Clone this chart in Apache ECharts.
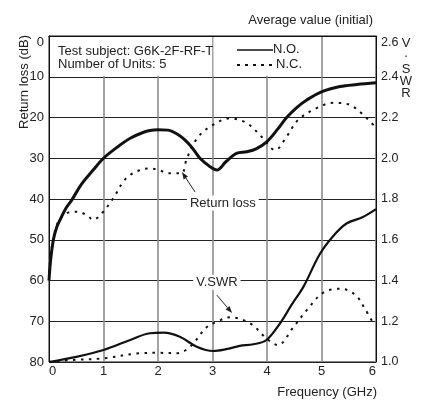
<!DOCTYPE html>
<html><head><meta charset="utf-8">
<script src="https://cdn.jsdelivr.net/npm/echarts@6/dist/echarts.min.js"></script>
<style>html,body{margin:0;padding:0;background:#fff}#c{width:427px;height:401px}</style>
</head><body><div id="c"></div>
<script>
// ---- data ----
var freqTicks = [0, 1, 2, 3, 4, 5, 6];
var rlTicks = [0, 10, 20, 30, 40, 50, 60, 70, 80];
var vswrTicks = [1.0, 1.2, 1.4, 1.6, 1.8, 2.0, 2.2, 2.4, 2.6];

var noRLFreq = [0, 0.03, 0.08, 0.14, 0.2, 0.3, 0.42, 0.6, 0.81, 1.0, 1.25, 1.49, 1.7, 1.85, 2.0, 2.18, 2.4, 2.6, 2.77, 2.95, 3.08, 3.25, 3.44, 3.63, 3.8, 4.0, 4.2, 4.36, 4.55, 4.73, 5.0, 5.34, 5.65, 6.0];
var noRL     = [60, 55, 50, 47, 45.2, 42.5, 40.2, 36.3, 32.9, 30, 27.3, 25.1, 23.8, 23.2, 23.0, 23.1, 24.5, 27, 30, 32, 32.9, 30.8, 28.8, 28.4, 27.7, 25.9, 22.8, 20.0, 17.5, 15.7, 13.7, 12.4, 11.9, 11.5];

var ncRLFreq = [0, 0.05, 0.1, 0.17, 0.32, 0.51, 0.7, 0.81, 0.97, 1.18, 1.36, 1.49, 1.65, 1.82, 2.0, 2.19, 2.43, 2.53, 2.74, 3.01, 3.32, 3.63, 3.9, 4.15, 4.36, 4.57, 4.91, 5.22, 5.52, 5.77, 6.0];
var ncRL     = [58, 52, 48.5, 45.6, 43.5, 43.1, 44, 45.1, 43.5, 39.8, 35.8, 34.1, 33, 32.5, 32.8, 33.7, 33.7, 30, 24.7, 21.8, 20.2, 21.4, 24.7, 28, 24.7, 20.6, 17.7, 16.4, 16.9, 19.4, 22.5];

var noVswrFreq = [0, 0.5, 1.0, 1.49, 1.85, 2.1, 2.4, 2.71, 3.01, 3.25, 3.5, 3.75, 3.99, 4.24, 4.45, 4.67, 4.97, 5.22, 5.46, 5.75, 6.0];
var noVswr     = [1.0, 1.025, 1.059, 1.108, 1.141, 1.144, 1.124, 1.075, 1.054, 1.063, 1.079, 1.087, 1.108, 1.19, 1.28, 1.37, 1.53, 1.62, 1.68, 1.71, 1.75];

var ncVswrFreq = [0, 0.44, 1.0, 1.67, 2.0, 2.34, 2.59, 2.89, 3.1, 3.32, 3.69, 3.99, 4.2, 4.48, 4.73, 5.03, 5.34, 5.62, 5.8, 5.95];
var ncVswr     = [1.0, 1.01, 1.018, 1.043, 1.045, 1.043, 1.075, 1.17, 1.2, 1.22, 1.19, 1.116, 1.083, 1.17, 1.255, 1.34, 1.36, 1.33, 1.26, 1.19];

// annotation anchors (data coordinates: [GHz, dB])
var rlLabelAt = [3.19, 41.0];
var rlArrow = [[2.68, 38.3], [2.44, 33.4]];
var vsLabelAt = [3.08, 60.4];
var vsArrow = [[3.08, 63.6], [3.36, 68.0]];

function pairs(xs, ys) { return xs.map(function (x, i) { return [x, ys[i]]; }); }

var FONT = 'Liberation Sans, Arial, Helvetica, sans-serif';
var TXT = '#222';
var FS = 13;

var chart = echarts.init(document.getElementById('c'), null, { renderer: 'canvas' });

var option = {
  animation: false,
  backgroundColor: '#fff',
  textStyle: { fontFamily: FONT, color: TXT },
  grid: { left: 49, right: 51, top: 36, bottom: 39, containLabel: false, show: true, borderColor: '#111', borderWidth: 1, backgroundColor: 'transparent' },
  xAxis: {
    type: 'value', min: freqTicks[0], max: freqTicks[freqTicks.length - 1], interval: 1,
    axisLine: { show: true, lineStyle: { color: '#111', width: 1 } },
    axisTick: { show: false },
    axisLabel: { fontFamily: FONT, fontSize: FS, color: TXT, margin: 3, alignMinLabel: 'left', alignMaxLabel: 'right' },
    splitLine: { show: true, lineStyle: { color: '#8c8c8c', width: 1.6 } }
  },
  yAxis: [{
    type: 'value', min: rlTicks[0], max: rlTicks[rlTicks.length - 1], interval: 10, inverse: true,
    position: 'left',
    axisLine: { show: true, lineStyle: { color: '#111', width: 1 } },
    axisTick: { show: false },
    axisLabel: { fontFamily: FONT, fontSize: FS, color: TXT, margin: 5, verticalAlignMinLabel: 'top' },
    splitLine: { show: true, lineStyle: { color: '#222', width: 1 } }
  }, {
    type: 'value', min: vswrTicks[0], max: vswrTicks[vswrTicks.length - 1], interval: 0.2,
    position: 'right',
    axisLine: { show: true, onZero: false, lineStyle: { color: '#111', width: 1 } },
    axisTick: { show: false },
    axisLabel: { fontFamily: FONT, fontSize: 12.5, color: TXT, margin: 5, verticalAlignMaxLabel: 'top',
      formatter: function (v) { return v.toFixed(1); } },
    splitLine: { show: false }
  }],
  series: [{
    name: 'N.O. Return loss', type: 'line', yAxisIndex: 0, data: pairs(noRLFreq, noRL),
    smooth: 0.35, symbol: 'none', lineStyle: { color: '#111', width: 3 }, z: 5
  }, {
    name: 'N.C. Return loss', type: 'line', yAxisIndex: 0, data: pairs(ncRLFreq, ncRL),
    smooth: 0.35, symbol: 'none', lineStyle: { color: '#111', width: 2, type: [2.5, 5.5] }, z: 4
  }, {
    name: 'N.O. V.SWR', type: 'line', yAxisIndex: 1, data: pairs(noVswrFreq, noVswr),
    smooth: 0.35, symbol: 'none', lineStyle: { color: '#111', width: 2.2 }, z: 5
  }, {
    name: 'N.C. V.SWR', type: 'line', yAxisIndex: 1, data: pairs(ncVswrFreq, ncVswr),
    smooth: 0.35, symbol: 'none', lineStyle: { color: '#111', width: 2, type: [2.5, 5.5] }, z: 4
  }]
};
chart.setOption(option);

function px(p) { return chart.convertToPixel({ xAxisIndex: 0, yAxisIndex: 0 }, p); }

function arrow(a, b) {
  var s = px(a), e = px(b);
  var dx = e[0] - s[0], dy = e[1] - s[1], L = Math.sqrt(dx * dx + dy * dy);
  var ux = dx / L, uy = dy / L, hl = 7, hw = 2.6;
  var bx = e[0] - ux * hl, by = e[1] - uy * hl;
  return [{
    type: 'line', z: 20, shape: { x1: s[0], y1: s[1], x2: bx, y2: by },
    style: { stroke: '#222', lineWidth: 1 }
  }, {
    type: 'polygon', z: 20,
    shape: { points: [[e[0], e[1]], [bx - uy * hw, by + ux * hw], [bx + uy * hw, by - ux * hw]] },
    style: { fill: '#222' }
  }];
}

function label(text, at) {
  var p = px(at);
  return {
    type: 'text', z: 20, x: p[0], y: p[1],
    style: { text: text, font: FS + 'px ' + FONT, fill: TXT, align: 'center', verticalAlign: 'middle',
      backgroundColor: '#fff', padding: [1, 3, 1, 3] }
  };
}

var top0 = px([0, 0]), top10 = px([0, 10]), topR = px([6, 0]);
var gx3 = px([3, 0])[0];
var F = FS + 'px ' + FONT;
var graphics = [
  // white masks over gridlines behind the legend block
  { type: 'rect', z: 10, shape: { x: top0[0] + 1, y: top0[1] + 1, width: gx3 - top0[0] - 2, height: top10[1] - top0[1] - 2 }, style: { fill: '#fff' } },
  { type: 'rect', z: 10, shape: { x: gx3 + 1, y: top0[1] + 1, width: 106, height: top10[1] - top0[1] - 2 }, style: { fill: '#fff' } },
  // top frame line
  { type: 'line', z: 15, shape: { x1: top0[0], y1: Math.round(top0[1]) + 0.5, x2: topR[0], y2: Math.round(top0[1]) + 0.5 }, style: { stroke: '#111', lineWidth: 1 } },
  { type: 'text', z: 12, left: 58, top: 45, style: { text: 'Test subject: G6K-2F-RF-T', font: F, fill: TXT } },
  { type: 'text', z: 12, left: 58, top: 58, style: { text: 'Number of Units: 5', font: F, fill: TXT } },
  { type: 'line', z: 12, shape: { x1: 237, y1: 50, x2: 273, y2: 50 }, style: { stroke: '#111', lineWidth: 1.5 } },
  { type: 'text', z: 12, left: 273, top: 43, style: { text: 'N.O.', font: F, fill: TXT } },
  { type: 'line', z: 12, shape: { x1: 237, y1: 65, x2: 272, y2: 65 }, style: { stroke: '#111', lineWidth: 2, lineDash: [3, 5] } },
  { type: 'text', z: 12, left: 276, top: 58, style: { text: 'N.C.', font: F, fill: TXT } },
  // axis titles
  { type: 'text', z: 12, x: 24, y: 82, rotation: Math.PI / 2,
    style: { text: 'Return loss (dB)', font: F, fill: TXT, align: 'center', verticalAlign: 'middle' } },
  { type: 'text', z: 12, x: 373, y: 20,
    style: { text: 'Average value (initial)', font: F, fill: TXT, align: 'right', verticalAlign: 'middle' } },
  { type: 'text', z: 12, x: 377, y: 392,
    style: { text: 'Frequency (GHz)', font: F, fill: TXT, align: 'right', verticalAlign: 'middle' } },
  { type: 'text', z: 12, x: 406, y: 43, style: { text: 'V', font: F, fill: TXT, align: 'center', verticalAlign: 'middle' } },
  { type: 'text', z: 12, x: 406, y: 53, style: { text: '.', font: F, fill: TXT, align: 'center', verticalAlign: 'middle' } },
  { type: 'text', z: 12, x: 406, y: 69, style: { text: 'S', font: F, fill: TXT, align: 'center', verticalAlign: 'middle' } },
  { type: 'text', z: 12, x: 406, y: 81, style: { text: 'W', font: F, fill: TXT, align: 'center', verticalAlign: 'middle' } },
  { type: 'text', z: 12, x: 406, y: 93, style: { text: 'R', font: F, fill: TXT, align: 'center', verticalAlign: 'middle' } },
  label('Return loss', rlLabelAt),
  label('V.SWR', vsLabelAt)
];
graphics = graphics.concat(arrow(rlArrow[0], rlArrow[1])).concat(arrow(vsArrow[0], vsArrow[1]));
chart.setOption({ graphic: graphics });
</script>
</body></html>
